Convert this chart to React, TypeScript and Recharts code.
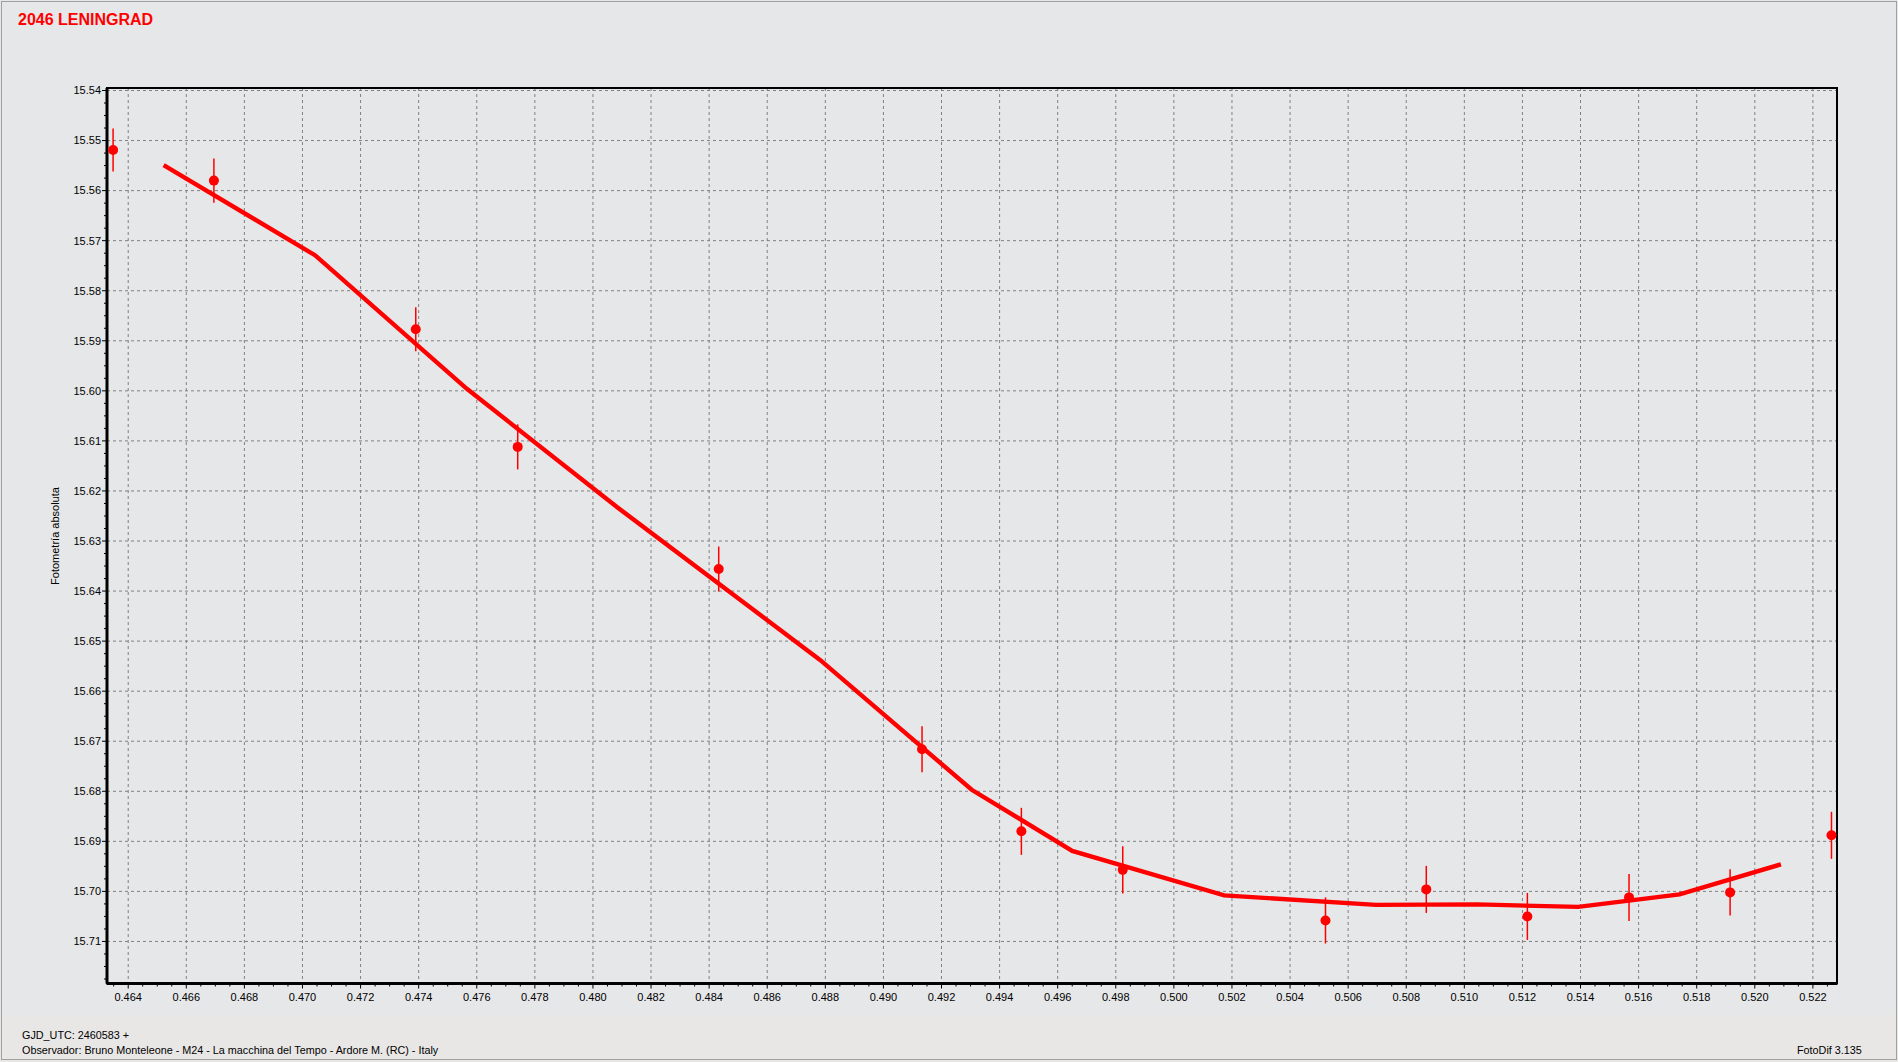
import React from 'react';
import { ComposedChart, Line, Scatter, ErrorBar, XAxis, YAxis, CartesianGrid, ReferenceArea } from 'recharts';

const W = 1898;
const H = 1062;
const FONT = '"Liberation Sans", Arial, sans-serif';
const RED = '#ff0000';

// measured points (GJD_UTC - 2460583)
const phase = [0.46348, 0.46695, 0.4739, 0.47741, 0.48433, 0.49133, 0.49475, 0.49824, 0.50522, 0.50869, 0.51217, 0.51567, 0.51915, 0.52264];
const mag = [15.5519, 15.558, 15.5877, 15.6112, 15.6356, 15.6716, 15.688, 15.6957, 15.7058, 15.6996, 15.705, 15.7012, 15.7002, 15.6888];
const magErr = [0.0043, 0.0044, 0.0044, 0.0045, 0.0045, 0.0046, 0.0047, 0.0047, 0.0046, 0.0047, 0.0047, 0.0047, 0.0046, 0.0047];

// smoothed curve
const fitPhase = [0.46522, 0.47043, 0.47566, 0.48087, 0.48783, 0.49304, 0.4965, 0.50173, 0.50696, 0.51043, 0.51392, 0.51741, 0.5209];
const fitMag = [15.5549, 15.5729, 15.5996, 15.6234, 15.6538, 15.6797, 15.6919, 15.7008, 15.7027, 15.7026, 15.7031, 15.7006, 15.6946];

const xMajorTicks = [
    0.464, 0.466, 0.468, 0.47, 0.472, 0.474, 0.476, 0.478, 0.48, 0.482, 0.484, 0.486, 0.488, 0.49, 0.492,
    0.494, 0.496, 0.498, 0.5, 0.502, 0.504, 0.506, 0.508, 0.51, 0.512, 0.514, 0.516, 0.518, 0.52, 0.522,
];
const yMajorTicks = [
    15.54, 15.55, 15.56, 15.57, 15.58, 15.59, 15.6, 15.61, 15.62, 15.63, 15.64, 15.65, 15.66, 15.67, 15.68, 15.69, 15.7, 15.71,
];

const X_DOMAIN: [number, number] = [0.46327, 0.52283];
const Y_DOMAIN: [number, number] = [15.5395, 15.7184];

// major ticks split in 4 for the small marks
function subdivide(major: number[], parts: number, lo: number, hi: number) {
    const step = (major[1] - major[0]) / parts;
    const out: number[] = [];
    for (let v = major[0] - step * parts; v <= major[major.length - 1] + step * parts + 1e-9; v += step) {
        const r = Math.round(v * 1e6) / 1e6;
        if (r >= lo && r <= hi) out.push(r);
    }
    return out;
}

const xTicksAll = subdivide(xMajorTicks, 4, X_DOMAIN[0], X_DOMAIN[1]);
const yTicksAll = subdivide(yMajorTicks, 4, Y_DOMAIN[0], Y_DOMAIN[1]);

const isMajor = (list: number[], v: number) => list.some((t) => Math.abs(t - v) < 1e-7);

const points = phase.map((x, i) => ({ x, y: mag[i], err: magErr[i] }));
const fit = fitPhase.map((x, i) => ({ x, y: fitMag[i] }));

const YTick = (props: any) => {
    const { x, y, payload } = props;
    const v = payload.value as number;
    const major = isMajor(yMajorTicks, v);
    return (
        <g>
            <line x1={x} x2={x - (major ? 5 : 3)} y1={y} y2={y} stroke="#000" strokeWidth={1} />
            {major && (
                <text x={x - 6} y={y} dy="0.35em" textAnchor="end" fontSize={11} fontFamily={FONT} fill="#000">
                    {v.toFixed(2)}
                </text>
            )}
        </g>
    );
};

const XTick = (props: any) => {
    const { x, y, payload } = props;
    const v = payload.value as number;
    const major = isMajor(xMajorTicks, v);
    return (
        <g>
            <line x1={x} x2={x} y1={y} y2={y + (major ? 5 : 3)} stroke="#000" strokeWidth={1} />
            {major && (
                <text x={x} y={y + 10} dy="0.71em" textAnchor="middle" fontSize={11} fontFamily={FONT} fill="#000">
                    {v.toFixed(3)}
                </text>
            )}
        </g>
    );
};

const Dot = (props: any) => <circle cx={props.cx} cy={props.cy} r={5} fill={RED} />;

export default function App() {
    return (
        <div style={{ position: 'relative', width: W, height: H, background: '#e6e7e9', fontFamily: FONT, overflow: 'hidden' }}>
            <style>{'body{margin:0}'}</style>
            <div style={{ position: 'absolute', left: 0, right: 0, top: 1015, bottom: 0, background: '#e8e7e6' }} />
            <div style={{ position: 'absolute', left: 1, top: 1, right: 1, bottom: 2, border: '1px solid #a0a0a0' }} />

            <ComposedChart
                width={W}
                height={H}
                margin={{ top: 88, right: 61, bottom: 48.5, left: 47 }}
                style={{ position: 'absolute', left: 0, top: 0 }}
            >
                <CartesianGrid
                    stroke="#808080"
                    strokeDasharray="3 3"
                    horizontalValues={yMajorTicks}
                    verticalValues={xMajorTicks}
                />
                <XAxis
                    type="number"
                    dataKey="x"
                    domain={X_DOMAIN}
                    allowDataOverflow
                    ticks={xTicksAll}
                    interval={0}
                    height={30}
                    tickSize={0}
                    tickMargin={0}
                    tickLine={false}
                    axisLine={{ stroke: '#000', strokeWidth: 3 }}
                    tick={<XTick />}
                />
                <YAxis
                    type="number"
                    dataKey="y"
                    domain={Y_DOMAIN}
                    allowDataOverflow
                    reversed
                    ticks={yTicksAll}
                    interval={0}
                    width={60}
                    tickSize={0}
                    tickMargin={0}
                    tickLine={false}
                    axisLine={{ stroke: '#000', strokeWidth: 3 }}
                    tick={<YTick />}
                />
                <ReferenceArea
                    x1={X_DOMAIN[0]}
                    x2={X_DOMAIN[1]}
                    y1={Y_DOMAIN[0]}
                    y2={Y_DOMAIN[1]}
                    fill="none"
                    stroke="#000"
                    strokeWidth={2}
                    ifOverflow="visible"
                />
                <Line
                    data={fit}
                    dataKey="y"
                    type="linear"
                    stroke={RED}
                    strokeWidth={4.4}
                    dot={false}
                    activeDot={false}
                    isAnimationActive={false}
                />
                <Scatter data={points} dataKey="y" shape={<Dot />} isAnimationActive={false}>
                    <ErrorBar dataKey="err" direction="y" width={0} stroke={RED} strokeWidth={1.5} isAnimationActive={false} />
                </Scatter>
            </ComposedChart>

            <svg width={W} height={H} style={{ position: 'absolute', left: 0, top: 0, pointerEvents: 'none' }}>
                <text x={18} y={25} fontSize={16} fontWeight="bold" fill={RED} fontFamily={FONT}>
                    2046 LENINGRAD
                </text>
                <text transform="translate(59,536) rotate(-90)" textAnchor="middle" fontSize={11} fill="#000" fontFamily={FONT}>
                    Fotometría absoluta
                </text>
                <text x={22} y={1038.5} fontSize={10.8} fill="#000" fontFamily={FONT}>
                    GJD_UTC: 2460583 +
                </text>
                <text x={22} y={1054} fontSize={10.8} fill="#000" fontFamily={FONT}>
                    Observador: Bruno Monteleone - M24 - La macchina del Tempo - Ardore M. (RC) - Italy
                </text>
                <text x={1797} y={1053.5} fontSize={10.8} fill="#000" fontFamily={FONT}>
                    FotoDif 3.135
                </text>
            </svg>
        </div>
    );
}
